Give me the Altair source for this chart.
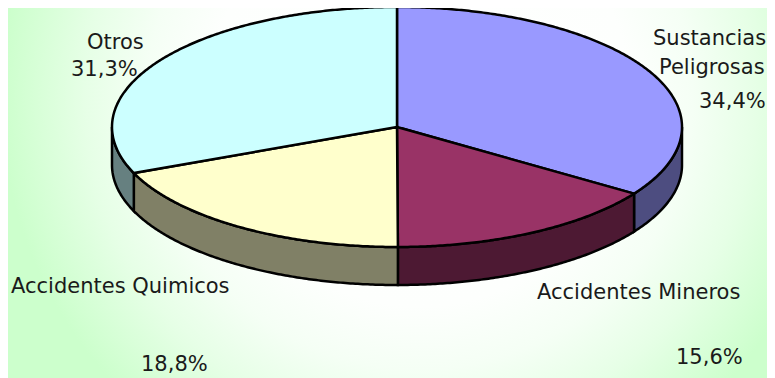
import math
import altair as alt
import pandas as pd

categories = ["Sustancias Peligrosas", "Accidentes Mineros", "Accidentes Quimicos", "Otros"]
shares = [34.4, 15.6, 18.8, 31.3]
top_colors = ["#9999FF", "#993366", "#FFFFCC", "#CCFFFF"]
side_colors = ["#4D4D80", "#4D1933", "#808066", "#668080"]

label_texts = ["Otros", "31,3%", "Sustancias", "Peligrosas", "34,4%",
               "Accidentes Quimicos", "18,8%", "Accidentes Mineros", "15,6%"]
label_left = [87, 71, 653, 659, 699, 11, 141, 537, 676]
label_base = [49, 76, 45, 74, 108, 292.5, 371, 299, 364]

W, H = 759, 370
BG_H = 531
OFF = 8
CX, CY, RX, RY, DEPTH = 397 - OFF, 127 - OFF, 285, 120, 38
TOTAL = sum(shares)


def pt(deg, dy=0.0):
    a = math.radians(deg)
    return CX + RX * math.sin(a), CY - RY * math.cos(a) + dy


def arc(a0, a1):
    n = max(2, int(abs(a1 - a0)) * 2)
    return [a0 + (a1 - a0) * i / n for i in range(n + 1)]


xs = alt.X("x:Q", scale=alt.Scale(domain=[0, W], nice=False, zero=False), axis=None)
ys = alt.Y("y:Q", scale=alt.Scale(domain=[H, 0], nice=False, zero=False), axis=None)


def poly(points, fill):
    df = pd.DataFrame([{"x": p[0], "y": p[1], "i": i} for i, p in enumerate(points)])
    return alt.Chart(df).mark_line(
        fill=fill, stroke="black", strokeWidth=2.5, interpolate="linear-closed", clip=False
    ).encode(x=xs, y=ys, order=alt.Order("i:Q"))


bg = alt.Chart(pd.DataFrame({"a": [0]})).mark_rect(
    fill=alt.RadialGradient(
        gradient="radial", x1=0.543, y1=0.267, x2=0.543, y2=0.267, r1=0.0, r2=0.553,
        stops=[alt.GradientStop(offset=0, color="#FFFFFF"),
               alt.GradientStop(offset=0.5, color="#FDFFFD"),
               alt.GradientStop(offset=0.65, color="#F5FFF5"),
               alt.GradientStop(offset=0.8, color="#E6FFE6"),
               alt.GradientStop(offset=0.9, color="#D9FFD9"),
               alt.GradientStop(offset=1, color="#CCFFCC")],
    )
).encode(x=alt.value(0), x2=alt.value(W), y=alt.value(0), y2=alt.value(BG_H))

layers = [bg]
edges = []
acc = 0.0
for s in shares:
    edges.append((acc / TOTAL * 360, (acc + s) / TOTAL * 360))
    acc += s

for (a0, a1), c in zip(edges, side_colors):
    lo, hi = max(a0, 90), min(a1, 270)
    if lo < hi:
        front = arc(lo, hi)
        pts = [pt(a) for a in front] + [pt(a, DEPTH) for a in reversed(front)]
        layers.append(poly(pts, c))

for (a0, a1), c in zip(edges, top_colors):
    pts = [(CX, CY)] + [pt(a) for a in arc(a0, a1)]
    layers.append(poly(pts, c))

labels = pd.DataFrame({
    "t": label_texts,
    "x": [v - OFF for v in label_left],
    "y": [v - OFF for v in label_base],
})
layers.append(
    alt.Chart(labels).mark_text(
        align="left", baseline="alphabetic", font="DejaVu Sans", fontSize=21, color="#1A1A1A"
    ).encode(x=xs, y=ys, text="t:N")
)

chart = alt.layer(*layers).properties(
    width=W, height=H, padding=0, autosize=alt.AutoSizeParams(type="none")
).configure_view(stroke=None)

chart.save("out.html", embed_options={"renderer": "svg", "actions": False})
